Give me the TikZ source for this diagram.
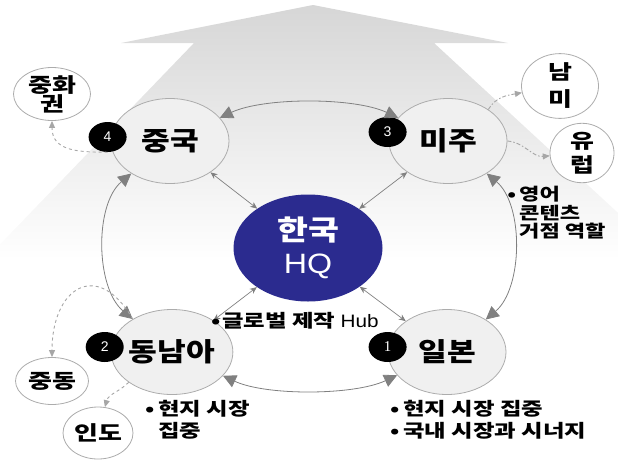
\documentclass[tikz,border=0pt]{standalone}
\usepackage{fontspec}
\setmainfont{Noto Sans CJK KR}[FakeStretch=1.2, BoldFont={Noto Sans CJK KR Black}]
\newfontfamily\krwide{Noto Sans CJK KR}[FakeStretch=1.3, BoldFont={Noto Sans CJK KR Black}]
\newfontfamily\hqlatin{Liberation Sans}[FakeStretch=1.15]
\newfontfamily\numsans{Liberation Sans}
\newfontfamily\numserif{Liberation Serif}
\usetikzlibrary{arrows.meta, positioning, shapes.geometric}

\definecolor{hqblue}{RGB}{43,43,143}
\definecolor{linegray}{RGB}{128,128,128}

\begin{document}
\begin{tikzpicture}[x=1pt, y=1pt,
    region/.style={ellipse, draw=gray!65, fill=gray!12, line width=0.8pt, minimum width=118pt, minimum height=85pt, inner sep=0pt, font=\fontsize{26}{28}\selectfont\bfseries},
    sub/.style={ellipse, draw=gray!65, fill=white, line width=0.8pt, inner sep=0pt, align=center, font=\krwide\fontsize{20}{20}\selectfont\bfseries},
    badge/.style={ellipse, fill=black, minimum width=38pt, minimum height=30pt, inner sep=0pt, text=white, font=\numsans\fontsize{14}{14}\selectfont},
    ring/.style={draw=linegray, line width=0.8pt, {Triangle[length=13pt, width=13pt]}-{Triangle[length=13pt, width=13pt]}},
    spoke/.style={draw=linegray, line width=0.7pt, {Stealth[length=7pt, width=6pt]}-{Stealth[length=7pt, width=6pt]}},
    branch/.style={draw=gray!70, line width=0.9pt, dashed, -{Triangle[length=7pt, width=6pt]}},
    dashdot/.style={dash pattern=on 4pt off 2pt on 1.5pt off 2pt},
    note/.style={align=left, inner sep=0pt, font=\krwide\fontsize{18}{20}\selectfont\bfseries},
  ]
  \useasboundingbox (0,0) rectangle (618,-464);

  % big growth arrow behind everything
  \begin{scope}
    \clip (0,0) rectangle (618,-464);
    \shade[top color=gray!32, bottom color=white]
      (313,-5) -- (121,-43) -- (194,-43) -- (-15,-260) -- (669,-260) -- (434,-43) -- (508,-43) -- cycle;
  \end{scope}

  % regions
  \node[region] (cn) at (170,-141) {중국};
  \node[region] (mj) at (448,-141) {미주};
  \node[region] (dn) at (172,-352) {동남아};
  \node[region] (jp) at (447,-352) {일본};
  \node[ellipse, fill=hqblue, minimum width=149pt, minimum height=107pt, inner sep=0pt, text=white, align=center, font=\fontsize{28}{33}\selectfont] (hq) at (308,-248) {{\bfseries 한국}\\{\hqlatin HQ}};

  % neighbour markets
  \node[sub, minimum width=77pt, minimum height=45pt] (zh) at (52,-94) {중화\\[-1pt]권};
  \node[sub, minimum width=77pt, minimum height=52pt] (nm) at (560,-86) {남\\[7pt]미};
  \node[sub, minimum width=64pt, minimum height=50pt] (yr) at (582,-153) {유\\[4pt]럽};
  \node[sub, minimum width=73pt, minimum height=47pt] (jd) at (52,-381) {중동};
  \node[sub, minimum width=70pt, minimum height=52pt] (id) at (98,-433) {인도};

  % badges
  \node[badge] (b4) at ([xshift=-3pt, yshift=4pt]cn.west) {4};
  \node[badge] (b3) at ([xshift=-1pt, yshift=9pt]mj.west) {3};
  \node[badge] (b2) at ([xshift=-6pt, yshift=5pt]dn.west) {2};
  \node[badge, font=\numserif\fontsize{15}{15}\selectfont] (b1) at ([yshift=5pt]jp.west) {1};

  % ring
  \draw[ring] (cn) to[out=25, in=155, looseness=0.7] (mj);
  \draw[ring] (cn) to[out=220, in=140, looseness=0.85] (dn);
  \draw[ring] (dn) to[out=-25, in=-155, looseness=0.7] (jp);
  \draw[ring] (mj) to[out=-40, in=40, looseness=0.85] (jp);

  % hub links
  \foreach \n in {cn, mj, dn, jp}
    \draw[spoke] (hq) -- (\n);

  % expansion
  \draw[branch] (b4.south) to[out=180, in=-90, looseness=1.2] (zh);
  \draw[branch, dashdot] (mj.38) to[out=60, in=190] (nm);
  \draw[branch, dashdot] (mj.east) to[out=-5, in=185] (yr);
  \draw[branch] (dn.140) to[out=120, in=90, looseness=2] (jd);
  \draw[branch] (dn.215) to[out=225, in=75] (id);

  % notes
  \node[note, anchor=north west, font=\krwide\fontsize{17}{18.5}\selectfont\bfseries] (mjnote) at (519,-186) {\llap{•\hspace{3pt}}영어\\콘텐츠\\거점 역할};
  \node[note, anchor=north west] (hubnote) at (222,-312) {\llap{•\hspace{1pt}}글로벌 제작 {\hqlatin\mdseries Hub}};
  \node[note, anchor=north west, font=\krwide\fontsize{18}{22}\selectfont\bfseries] (dnnote) at (158,-400) {\llap{•\hspace{3pt}}현지 시장\\집중};
  \node[note, anchor=north west, font=\krwide\fontsize{18}{22}\selectfont\bfseries] (jpnote) at (403,-400) {\llap{•\hspace{3pt}}현지 시장 집중\\\llap{•\hspace{3pt}}국내 시장과 시너지};
\end{tikzpicture}
\end{document}
